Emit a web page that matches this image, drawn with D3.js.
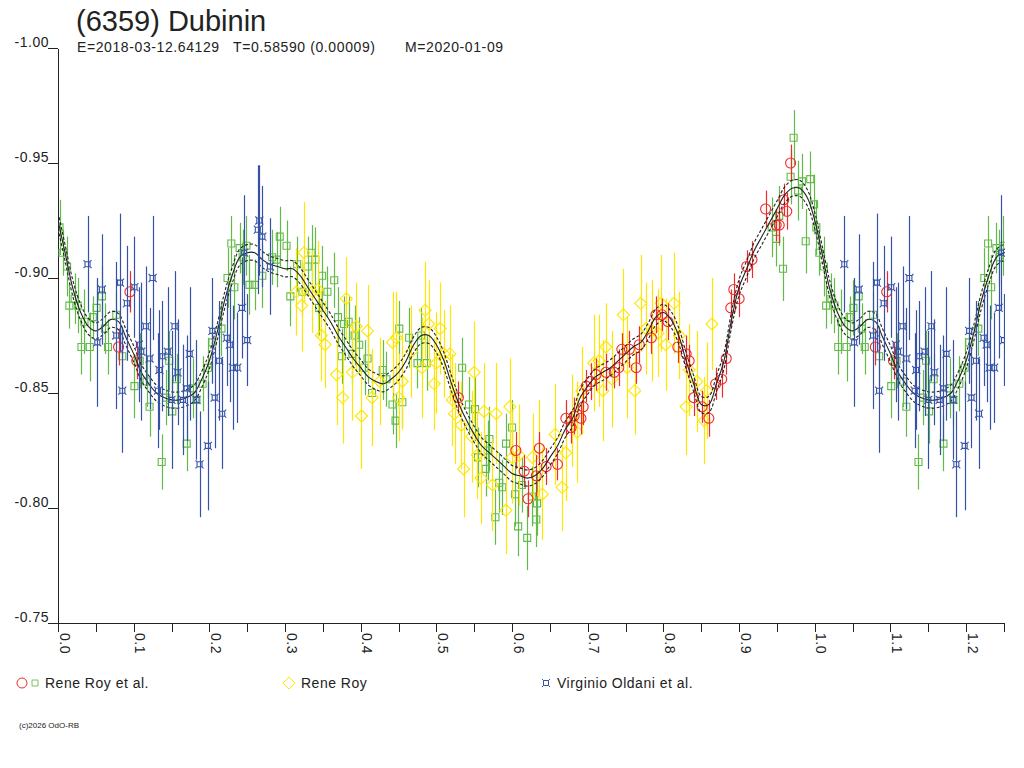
<!DOCTYPE html>
<html>
<head>
<meta charset="utf-8">
<script src="https://cdn.jsdelivr.net/npm/d3@7"></script>
<style>
  body { margin: 0; background: #fff; }
  svg { display: block; font-family: "Liberation Sans", Arial, sans-serif; }
</style>
</head>
<body>
<div id="container"></div>
<script>
// Header texts
const titleText = "(6359) Dubinin";
const infoTexts = ["E=2018-03-12.64129", "T=0.58590 (0.00009)", "M=2020-01-09"];
const copyText = "(c)2026 OdO-RB";

// Axis ticks
const yTickValues = [-1.0, -0.95, -0.9, -0.85, -0.8, -0.75];
const yTickLabels = ["-1.00", "-0.95", "-0.90", "-0.85", "-0.80", "-0.75"];
const xTickValues = [0, 0.05, 0.1, 0.15, 0.2, 0.25, 0.3, 0.35, 0.4, 0.45, 0.5, 0.55, 0.6,
  0.65, 0.7, 0.75, 0.8, 0.85, 0.9, 0.95, 1.0, 1.05, 1.1, 1.15, 1.2, 1.25];
const xLabelValues = [0, 0.1, 0.2, 0.3, 0.4, 0.5, 0.6, 0.7, 0.8, 0.9, 1.0, 1.1, 1.2];
const xTickLabels = ["0.0", "0.1", "0.2", "0.3", "0.4", "0.5", "0.6", "0.7", "0.8", "0.9", "1.0", "1.1", "1.2"];

// Legend
const legendLabels = ["Rene Roy et al.", "Rene Roy", "Virginio Oldani et al."];

// Observations: [phase, magnitude, error]
const greenPts = [
  [0.002, -0.922, 0.012], [0.006, -0.911, 0.010], [0.012, -0.905, 0.013], [0.022, -0.891, 0.011],
  [0.015, -0.888, 0.010], [0.026, -0.888, 0.012], [0.035, -0.881, 0.014], [0.046, -0.883, 0.009],
  [0.051, -0.887, 0.012], [0.058, -0.892, 0.013], [0.062, -0.878, 0.011], [0.031, -0.870, 0.012],
  [0.042, -0.870, 0.015], [0.066, -0.870, 0.012], [0.077, -0.884, 0.010], [0.085, -0.866, 0.013],
  [0.101, -0.853, 0.014], [0.108, -0.864, 0.012], [0.117, -0.855, 0.011], [0.121, -0.844, 0.013],
  [0.137, -0.820, 0.012], [0.143, -0.848, 0.012], [0.151, -0.842, 0.014], [0.157, -0.856, 0.011],
  [0.147, -0.864, 0.013], [0.170, -0.828, 0.012], [0.178, -0.852, 0.013], [0.183, -0.847, 0.011],
  [0.191, -0.854, 0.012], [0.198, -0.861, 0.013], [0.204, -0.872, 0.011], [0.216, -0.878, 0.012],
  [0.224, -0.900, 0.013], [0.233, -0.896, 0.014], [0.229, -0.915, 0.012], [0.240, -0.913, 0.011],
  [0.249, -0.914, 0.013], [0.244, -0.909, 0.012], [0.253, -0.897, 0.013], [0.260, -0.897, 0.011],
  [0.270, -0.901, 0.014], [0.283, -0.909, 0.012], [0.293, -0.918, 0.013], [0.302, -0.914, 0.011],
  [0.289, -0.908, 0.012], [0.307, -0.892, 0.013], [0.316, -0.906, 0.012], [0.323, -0.894, 0.011],
  [0.330, -0.905, 0.013], [0.335, -0.911, 0.012], [0.340, -0.908, 0.014], [0.345, -0.887, 0.012],
  [0.349, -0.901, 0.013], [0.356, -0.894, 0.011], [0.365, -0.899, 0.012], [0.370, -0.883, 0.013],
  [0.378, -0.880, 0.012], [0.384, -0.881, 0.011], [0.392, -0.875, 0.013], [0.398, -0.871, 0.012],
  [0.375, -0.866, 0.012], [0.389, -0.867, 0.013], [0.405, -0.861, 0.012], [0.409, -0.865, 0.011],
  [0.429, -0.860, 0.013], [0.434, -0.856, 0.012], [0.415, -0.850, 0.012], [0.442, -0.845, 0.013],
  [0.455, -0.846, 0.011], [0.446, -0.838, 0.012], [0.451, -0.878, 0.012], [0.464, -0.874, 0.013],
  [0.480, -0.875, 0.012], [0.475, -0.863, 0.011], [0.487, -0.863, 0.012], [0.534, -0.861, 0.013],
  [0.543, -0.845, 0.012], [0.551, -0.843, 0.014], [0.555, -0.822, 0.013], [0.565, -0.817, 0.012],
  [0.568, -0.825, 0.013], [0.570, -0.830, 0.014], [0.578, -0.796, 0.012], [0.583, -0.811, 0.013],
  [0.587, -0.809, 0.012], [0.592, -0.828, 0.013], [0.600, -0.835, 0.012], [0.604, -0.806, 0.014],
  [0.608, -0.792, 0.013], [0.613, -0.810, 0.012], [0.620, -0.787, 0.014], [0.626, -0.805, 0.013],
  [0.632, -0.795, 0.012], [0.633, -0.802, 0.014], [0.943, -0.922, 0.013], [0.949, -0.917, 0.012],
  [0.953, -0.927, 0.013], [0.958, -0.904, 0.014], [0.968, -0.944, 0.012], [0.972, -0.961, 0.012],
  [0.978, -0.938, 0.013], [0.983, -0.942, 0.012], [0.988, -0.916, 0.014], [0.994, -0.943, 0.012],
  [0.999, -0.932, 0.013]
];

const redPts = [
  [0.080, -0.870, 0.008], [0.095, -0.894, 0.009], [0.104, -0.864, 0.008], [0.529, -0.848, 0.007],
  [0.605, -0.825, 0.008], [0.616, -0.816, 0.007], [0.621, -0.804, 0.008], [0.632, -0.814, 0.009],
  [0.636, -0.826, 0.007], [0.645, -0.818, 0.008], [0.660, -0.819, 0.007], [0.671, -0.839, 0.008],
  [0.678, -0.835, 0.007], [0.682, -0.840, 0.008], [0.691, -0.839, 0.007], [0.694, -0.844, 0.008],
  [0.698, -0.853, 0.007], [0.704, -0.855, 0.008], [0.711, -0.858, 0.007], [0.724, -0.859, 0.008],
  [0.735, -0.859, 0.007], [0.741, -0.861, 0.008], [0.745, -0.869, 0.007], [0.755, -0.869, 0.008],
  [0.764, -0.861, 0.007], [0.768, -0.871, 0.008], [0.784, -0.874, 0.007], [0.790, -0.884, 0.008],
  [0.798, -0.884, 0.007], [0.806, -0.881, 0.008], [0.819, -0.870, 0.007], [0.830, -0.867, 0.008],
  [0.834, -0.864, 0.007], [0.840, -0.848, 0.008], [0.851, -0.844, 0.007], [0.860, -0.839, 0.008],
  [0.869, -0.854, 0.007], [0.877, -0.856, 0.008], [0.883, -0.865, 0.007], [0.889, -0.887, 0.008],
  [0.893, -0.895, 0.007], [0.900, -0.891, 0.008], [0.910, -0.905, 0.007], [0.917, -0.908, 0.008],
  [0.935, -0.930, 0.008], [0.949, -0.923, 0.007], [0.953, -0.923, 0.008], [0.959, -0.934, 0.007],
  [0.963, -0.929, 0.008], [0.968, -0.950, 0.008]
];

const yellowPts = [
  [0.315, -0.894, 0.019], [0.322, -0.888, 0.020], [0.325, -0.911, 0.022], [0.336, -0.894, 0.018],
  [0.343, -0.895, 0.021], [0.348, -0.875, 0.020], [0.353, -0.871, 0.019], [0.368, -0.858, 0.022],
  [0.376, -0.848, 0.020], [0.381, -0.891, 0.018], [0.389, -0.859, 0.021], [0.394, -0.879, 0.019],
  [0.401, -0.840, 0.023], [0.409, -0.877, 0.020], [0.415, -0.848, 0.021], [0.425, -0.855, 0.019],
  [0.442, -0.872, 0.022], [0.447, -0.874, 0.020], [0.450, -0.848, 0.019], [0.455, -0.855, 0.021],
  [0.467, -0.868, 0.020], [0.481, -0.861, 0.022], [0.485, -0.886, 0.021], [0.490, -0.880, 0.019],
  [0.497, -0.854, 0.020], [0.500, -0.863, 0.022], [0.505, -0.878, 0.020], [0.510, -0.867, 0.019],
  [0.518, -0.867, 0.021], [0.521, -0.847, 0.020], [0.524, -0.841, 0.022], [0.533, -0.836, 0.019],
  [0.536, -0.817, 0.021], [0.547, -0.831, 0.020], [0.550, -0.859, 0.022], [0.554, -0.823, 0.019],
  [0.559, -0.813, 0.020], [0.563, -0.842, 0.021], [0.574, -0.810, 0.020], [0.579, -0.841, 0.022],
  [0.592, -0.799, 0.019], [0.597, -0.844, 0.021], [0.600, -0.822, 0.020], [0.609, -0.823, 0.022],
  [0.627, -0.822, 0.019], [0.636, -0.826, 0.021], [0.640, -0.806, 0.020], [0.657, -0.832, 0.022],
  [0.666, -0.809, 0.019], [0.671, -0.824, 0.021], [0.679, -0.838, 0.020], [0.686, -0.833, 0.022],
  [0.692, -0.851, 0.019], [0.708, -0.863, 0.021], [0.715, -0.864, 0.020], [0.720, -0.851, 0.022],
  [0.724, -0.870, 0.019], [0.732, -0.856, 0.021], [0.747, -0.884, 0.020], [0.752, -0.861, 0.022],
  [0.762, -0.851, 0.019], [0.770, -0.889, 0.021], [0.777, -0.878, 0.020], [0.785, -0.877, 0.022],
  [0.793, -0.876, 0.019], [0.797, -0.889, 0.021], [0.803, -0.871, 0.020], [0.814, -0.889, 0.022],
  [0.821, -0.875, 0.019], [0.830, -0.844, 0.021], [0.834, -0.860, 0.020], [0.844, -0.855, 0.022],
  [0.854, -0.838, 0.019], [0.857, -0.851, 0.021], [0.864, -0.880, 0.020]
];

const bluePts = [
  [0.039, -0.906, 0.021], [0.082, -0.898, 0.030], [0.058, -0.895, 0.024], [0.101, -0.896, 0.022],
  [0.125, -0.900, 0.027], [0.091, -0.889, 0.025], [0.052, -0.872, 0.028], [0.077, -0.875, 0.032],
  [0.116, -0.879, 0.026], [0.154, -0.879, 0.024], [0.107, -0.871, 0.025], [0.110, -0.868, 0.030],
  [0.121, -0.865, 0.022], [0.145, -0.868, 0.028], [0.138, -0.866, 0.024], [0.134, -0.860, 0.026],
  [0.158, -0.859, 0.023], [0.174, -0.867, 0.029], [0.085, -0.851, 0.027], [0.132, -0.851, 0.025],
  [0.170, -0.852, 0.023], [0.150, -0.847, 0.030], [0.165, -0.847, 0.024], [0.183, -0.847, 0.026],
  [0.207, -0.848, 0.022], [0.187, -0.819, 0.023], [0.198, -0.827, 0.028], [0.217, -0.841, 0.024],
  [0.213, -0.864, 0.026], [0.223, -0.874, 0.021], [0.227, -0.871, 0.025], [0.204, -0.877, 0.023],
  [0.243, -0.887, 0.022], [0.231, -0.861, 0.027], [0.237, -0.861, 0.024], [0.250, -0.873, 0.020],
  [0.246, -0.911, 0.025], [0.266, -0.925, 0.024], [0.264, -0.921, 0.028], [0.270, -0.918, 0.022],
  [0.280, -0.905, 0.021]
];

// Fitted light curve: [phase, magnitude]
const fitCurve = [
  [0.00, -0.925], [0.01, -0.910], [0.02, -0.895], [0.03, -0.885], [0.04, -0.879], [0.05, -0.877],
  [0.06, -0.879], [0.07, -0.882], [0.08, -0.881], [0.09, -0.874], [0.10, -0.867], [0.11, -0.859],
  [0.12, -0.854], [0.13, -0.850], [0.14, -0.848], [0.15, -0.847], [0.16, -0.847], [0.17, -0.848],
  [0.18, -0.850], [0.19, -0.856], [0.20, -0.864], [0.21, -0.876], [0.22, -0.890], [0.23, -0.901],
  [0.24, -0.909], [0.25, -0.911], [0.26, -0.911], [0.27, -0.908], [0.28, -0.906], [0.29, -0.905],
  [0.30, -0.904], [0.31, -0.904], [0.32, -0.901], [0.33, -0.896], [0.34, -0.891], [0.35, -0.886],
  [0.36, -0.881], [0.37, -0.875], [0.38, -0.870], [0.39, -0.865], [0.40, -0.861], [0.41, -0.857],
  [0.42, -0.855], [0.43, -0.854], [0.44, -0.856], [0.45, -0.859], [0.46, -0.864], [0.47, -0.871],
  [0.48, -0.875], [0.49, -0.875], [0.50, -0.871], [0.51, -0.864], [0.52, -0.854], [0.53, -0.845],
  [0.54, -0.838], [0.55, -0.832], [0.56, -0.827], [0.57, -0.824], [0.58, -0.821], [0.59, -0.818],
  [0.60, -0.815], [0.61, -0.814], [0.62, -0.813], [0.63, -0.814], [0.64, -0.817], [0.65, -0.822],
  [0.66, -0.827], [0.67, -0.834], [0.68, -0.839], [0.69, -0.848], [0.70, -0.853], [0.71, -0.857],
  [0.72, -0.859], [0.73, -0.861], [0.74, -0.864], [0.75, -0.867], [0.76, -0.870], [0.77, -0.872],
  [0.78, -0.877], [0.79, -0.883], [0.80, -0.885], [0.81, -0.882], [0.82, -0.875], [0.83, -0.864],
  [0.84, -0.854], [0.85, -0.845], [0.86, -0.845], [0.87, -0.854], [0.88, -0.864], [0.89, -0.882],
  [0.90, -0.896], [0.91, -0.904], [0.92, -0.912], [0.93, -0.918], [0.94, -0.924], [0.95, -0.930],
  [0.96, -0.936], [0.97, -0.939], [0.98, -0.939], [0.99, -0.935], [1.00, -0.925]
];
const fitBand = 0.0035; // half width of the dashed envelope

// Graph size
const w = 1024;
const h = 768;
const plotLeft = 58;
const plotRight = 1004;
const plotTop = 48;
const plotBottom = 623;
const maxPhase = 1.25;

const svg = d3.select("#container").
  append("svg").
  attr("width", w).
  attr("height", h);

svg.append("rect").attr("width", w).attr("height", h).attr("fill", "#fff");

const xScale = d3.scaleLinear().domain([0, maxPhase]).range([plotLeft, plotRight]);
const yScale = d3.scaleLinear().domain([-1.0, -0.75]).range([plotTop, plotBottom]);

svg.append("clipPath").attr("id", "plot-clip").
  append("rect").attr("x", plotLeft).attr("y", 0).attr("width", plotRight - plotLeft + 1).attr("height", plotBottom);

// Title and info line
svg.append("text").
  attr("x", 76).attr("y", 31).
  attr("font-size", 29).
  attr("fill", "#222").
  text(titleText);

const infoX = [77, 233, 405];
svg.selectAll(".info").
  data(infoTexts).
  enter().
  append("text").
  attr("class", "info").
  attr("x", (d, i) => infoX[i]).
  attr("y", 52).
  attr("font-size", 14).
  attr("letter-spacing", 0.6).
  attr("fill", "#222").
  text(d => d);

// y axis, labels sit above the tick
const yAxis = d3.axisLeft(yScale).
  tickValues(yTickValues).
  tickFormat(d => yTickLabels[yTickValues.indexOf(d)]).
  tickSize(10).
  tickSizeOuter(0);

const gy = svg.append("g").attr("transform", `translate(${plotLeft},0)`).call(yAxis);
gy.selectAll("text").
  attr("x", -9).
  attr("dy", "-2px").
  attr("font-size", 14).
  attr("letter-spacing", 0.5).
  attr("font-family", "Liberation Sans, Arial, sans-serif").
  attr("fill", "#222");

// x axis, rotated labels every 0.1
const labelFor = d => {
  const k = xLabelValues.findIndex(v => Math.abs(v - d) < 1e-9);
  return k < 0 ? "" : xTickLabels[k];
};
const xAxis = d3.axisBottom(xScale).
  tickValues(xTickValues).
  tickFormat(labelFor).
  tickSize(9).
  tickSizeOuter(0);

const gx = svg.append("g").attr("transform", `translate(0,${plotBottom})`).call(xAxis);
gx.selectAll("text").
  attr("transform", "rotate(90)").
  attr("x", 10).
  attr("y", -1).
  attr("dy", 0).
  attr("text-anchor", "start").
  attr("font-size", 14).
  attr("letter-spacing", 0.5).
  attr("font-family", "Liberation Sans, Arial, sans-serif").
  attr("fill", "#222");

[gx, gy].forEach(g => {
  g.selectAll("path, line").attr("stroke", "#222").attr("shape-rendering", "crispEdges");
});

// repeat phases 0..0.25 after 1.0
function expand(points) {
  return points.flatMap(d => d[0] + 1 <= maxPhase ? [d, [d[0] + 1, d[1], d[2]]] : [d]);
}

const markerShapes = {
  square: "M-3.5,-3.5H3.5V3.5H-3.5Z",
  diamond: "M0,-6L6,0L0,6L-6,0Z",
  star: "M-2.5,-2.5H2.5V2.5H-2.5Z M-2.5,-2.5L-4,-4 M2.5,-2.5L4,-4 M2.5,2.5L4,4 M-2.5,2.5L-4,4"
};

function drawSeries(points, color, shape) {
  const g = svg.append("g").attr("clip-path", "url(#plot-clip)");
  const pts = expand(points);

  g.selectAll("line").
    data(pts).
    enter().
    append("line").
    attr("x1", d => Math.round(xScale(d[0])) + 0.5).
    attr("x2", d => Math.round(xScale(d[0])) + 0.5).
    attr("y1", d => yScale(d[1] - d[2])).
    attr("y2", d => yScale(d[1] + d[2])).
    attr("stroke", color).
    attr("stroke-width", 1.2);

  if (shape === "circle") {
    g.selectAll("circle").
      data(pts).
      enter().
      append("circle").
      attr("cx", d => xScale(d[0])).
      attr("cy", d => yScale(d[1])).
      attr("r", 5).
      attr("fill", "none").
      attr("stroke", color).
      attr("stroke-width", 1.1);
  } else {
    g.selectAll("path").
      data(pts).
      enter().
      append("path").
      attr("d", markerShapes[shape]).
      attr("transform", d => `translate(${xScale(d[0])},${yScale(d[1])})`).
      attr("fill", "none").
      attr("stroke", color).
      attr("stroke-width", 1.1);
  }
}

const green = "#62bb46";
const red = "#ee2a2a";
const yellow = "#ffe600";
const blue = "#3552a8";

drawSeries(greenPts, green, "square");
drawSeries(yellowPts, yellow, "diamond");
drawSeries(redPts, red, "circle");

// Fit curve with dashed envelope
const fitAll = fitCurve.concat(
  fitCurve.filter(d => d[0] > 0 && d[0] <= 0.27).map(d => [d[0] + 1, d[1]]));

const line = d3.line().
  x(d => xScale(d[0])).
  y(d => yScale(d[1])).
  curve(d3.curveCatmullRom);

const fitG = svg.append("g").attr("clip-path", "url(#plot-clip)");
fitG.append("path").
  attr("d", line(fitAll)).
  attr("fill", "none").
  attr("stroke", "#222").
  attr("stroke-width", 1.1);

[-fitBand, fitBand].forEach(off => {
  fitG.append("path").
    attr("d", line(fitAll.map(d => [d[0], d[1] + off]))).
    attr("fill", "none").
    attr("stroke", "#222").
    attr("stroke-width", 1.1).
    attr("stroke-dasharray", "3,2");
});

drawSeries(bluePts, blue, "star");

// Legend
const legend = svg.append("g");
legend.append("circle").attr("cx", 22).attr("cy", 683).attr("r", 5).
  attr("fill", "none").attr("stroke", red);
legend.append("path").attr("d", markerShapes.square).attr("transform", "translate(35,683) scale(0.85)").
  attr("fill", "none").attr("stroke", green);
legend.append("path").attr("d", markerShapes.diamond).attr("transform", "translate(289,683)").
  attr("fill", "none").attr("stroke", yellow);
legend.append("path").attr("d", markerShapes.star).attr("transform", "translate(546,683)").
  attr("fill", "none").attr("stroke", blue);

const legendX = [45, 301, 557];
legend.selectAll("text").
  data(legendLabels).
  enter().
  append("text").
  attr("x", (d, i) => legendX[i]).
  attr("y", 688).
  attr("font-size", 14).
  attr("letter-spacing", 0.5).
  attr("fill", "#222").
  text(d => d);

svg.append("text").
  attr("x", 19).attr("y", 728).
  attr("font-size", 8).
  attr("fill", "#222").
  text(copyText);
</script>
</body>
</html>
